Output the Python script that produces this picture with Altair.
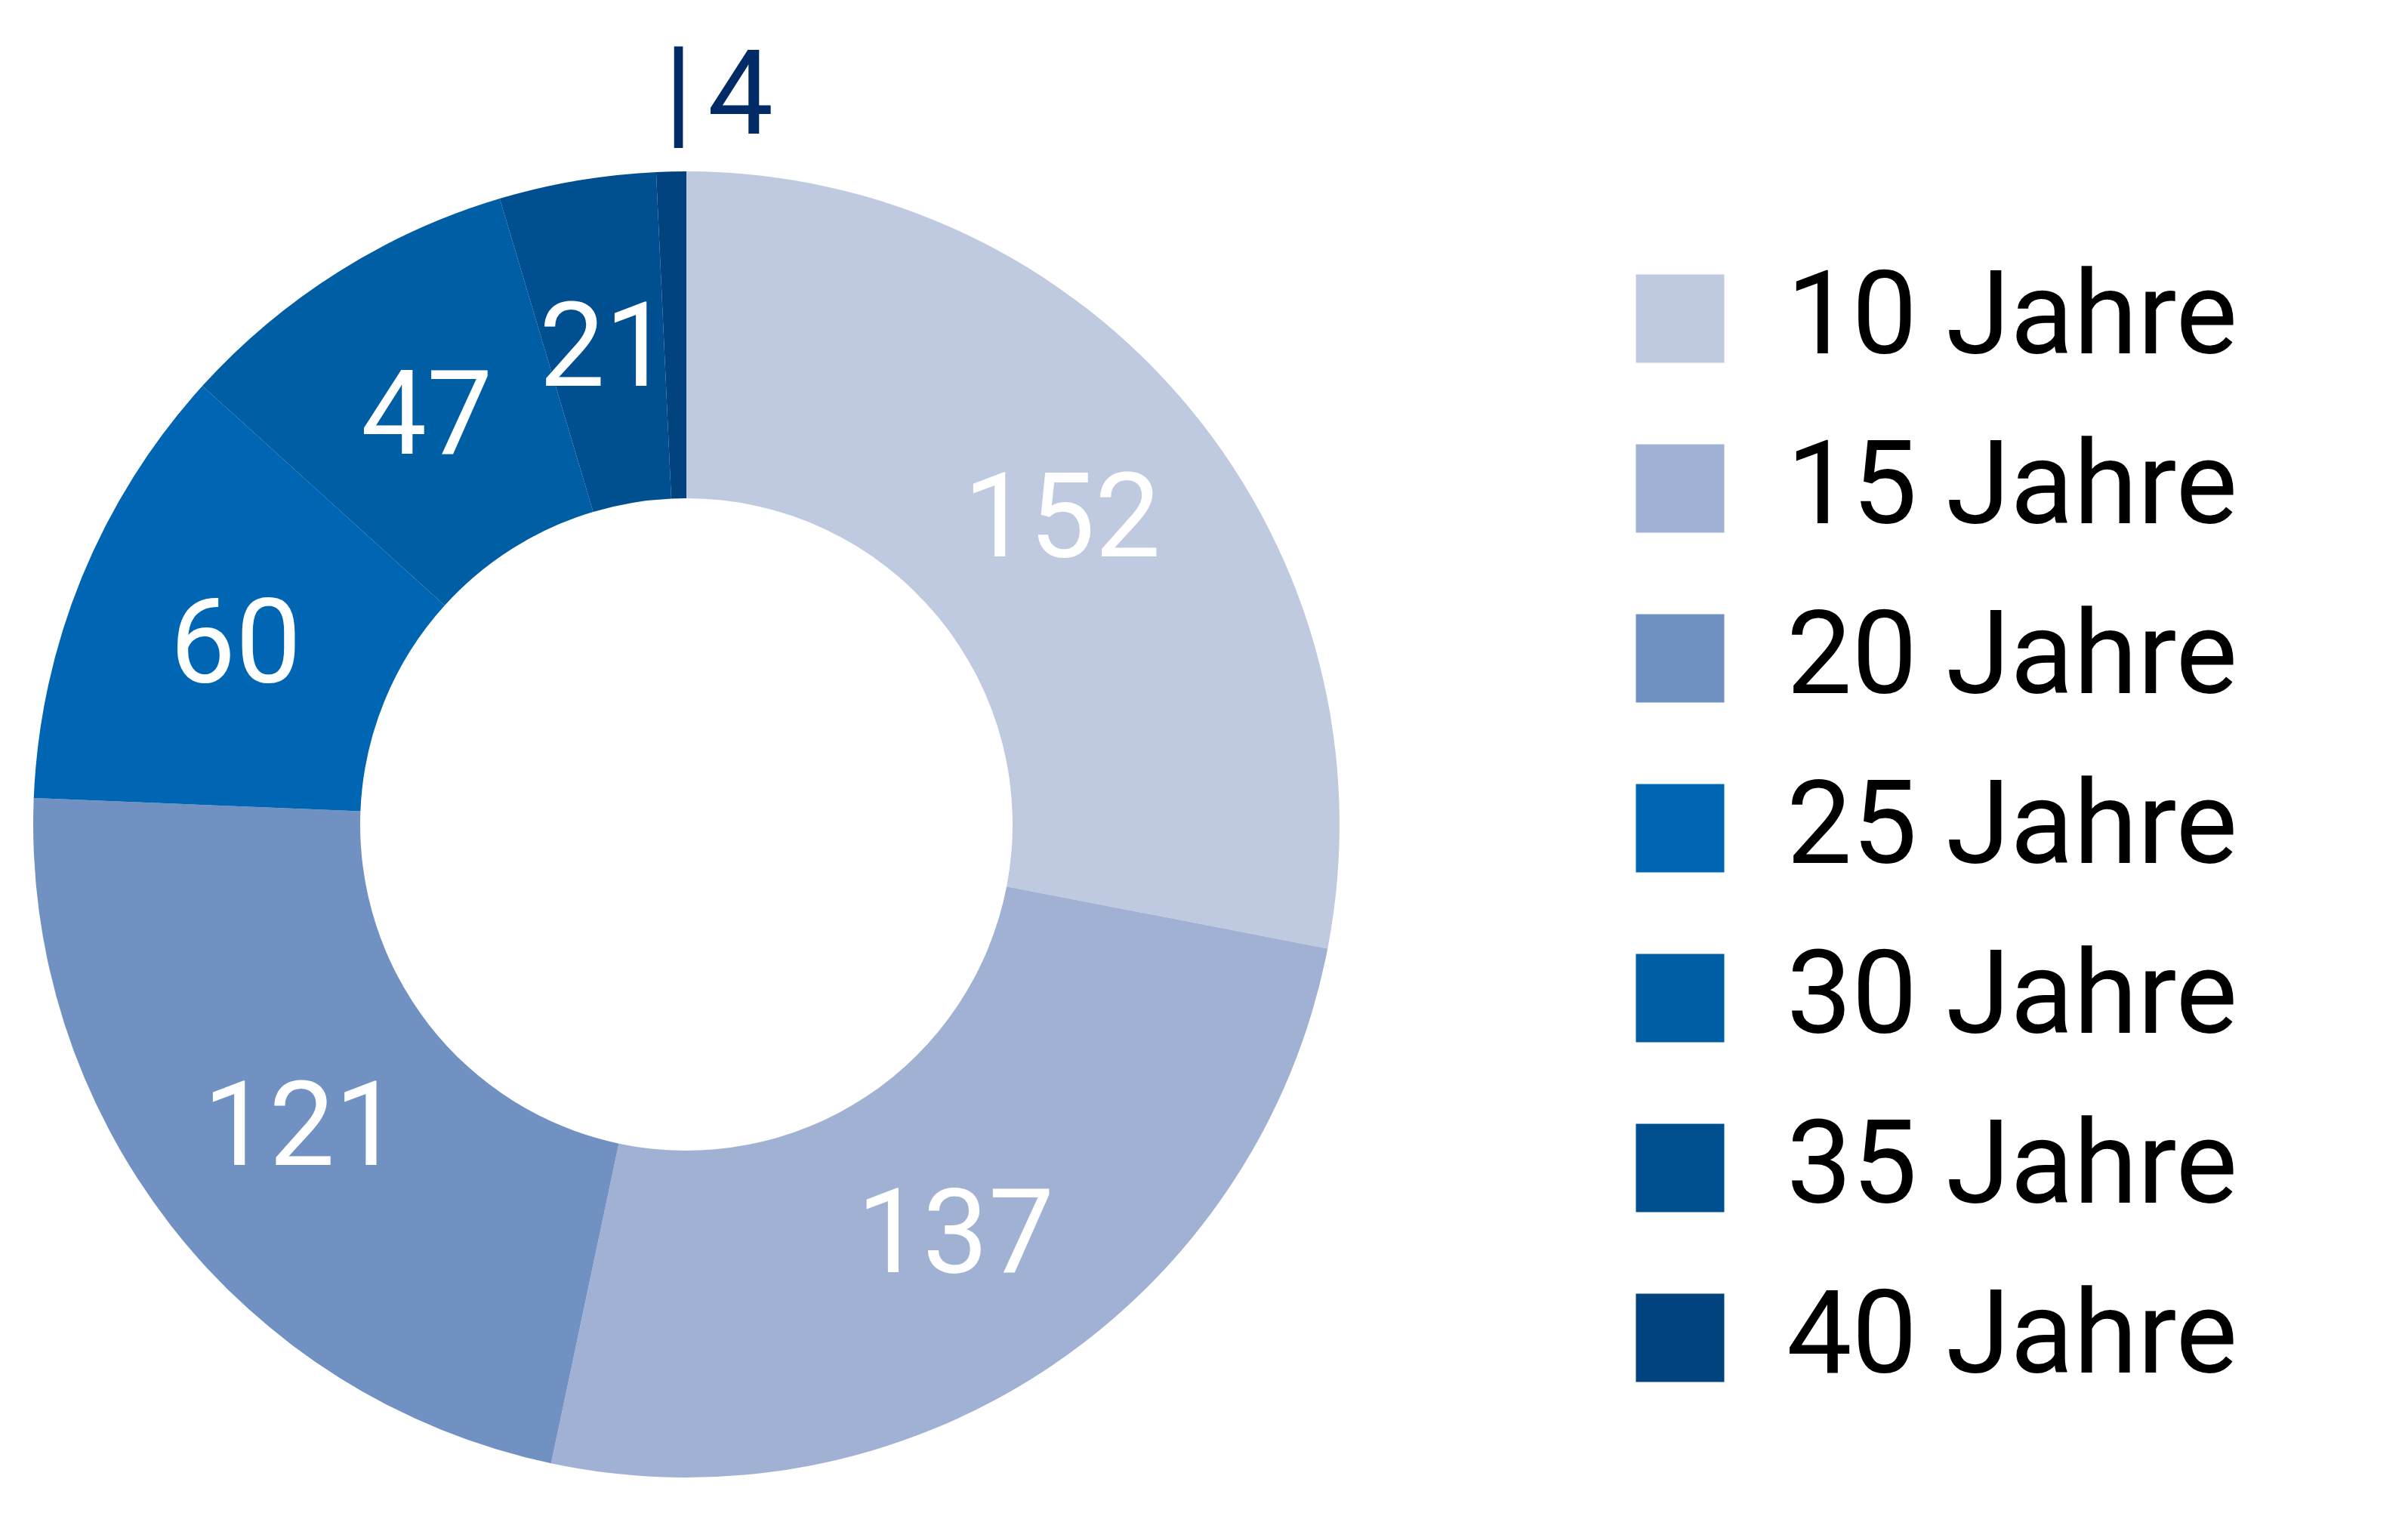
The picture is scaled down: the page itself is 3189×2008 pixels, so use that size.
import altair as alt
import pandas as pd

categories = ["10 Jahre", "15 Jahre", "20 Jahre", "25 Jahre", "30 Jahre", "35 Jahre", "40 Jahre"]
values = [152, 137, 121, 60, 47, 21, 4]
colors = ["#BFCAE1", "#A0B1D3", "#7191C2", "#0066B3", "#005EA4", "#005091", "#00437F"]

df = pd.DataFrame({
    "category": categories,
    "value": values,
    "order": list(range(len(categories))),
})

CX, CY = 901, 1084

base = alt.Chart(df).encode(
    theta=alt.Theta("value:Q", stack=True),
    order=alt.Order("order:Q"),
    x=alt.value(CX),
    y=alt.value(CY),
)

arcs = base.mark_arc(outerRadius=865, innerRadius=432, strokeWidth=0).encode(
    color=alt.Color(
        "category:N",
        sort=categories,
        scale=alt.Scale(domain=categories, range=colors),
        legend=alt.Legend(
            title=None,
            orient="none",
            legendX=2140,
            legendY=337,
            symbolType="square",
            symbolSize=13700,
            symbolStrokeWidth=0,
            symbolOpacity=1,
            labelFont="Roboto",
            labelFontSize=154,
            labelColor="#000000",
            labelLimit=2000,
            labelOffset=64,
            rowPadding=71,
        ),
    )
)

inner = base.mark_text(
    radius=645, dy=8, font="Roboto", fontSize=155, color="white",
    align="center", baseline="middle",
).encode(text="inner:N").transform_calculate(
    inner="datum.value > 4 ? format(datum.value, 'd') : ''"
)

pipe = base.mark_text(
    radius=966, dx=12, dy=1, font="Roboto", fontSize=160, color="#002B66",
    align="center", baseline="middle",
).encode(text="pipe:N").transform_calculate(
    pipe="datum.value <= 4 ? '|' : ''"
)

outer = base.mark_text(
    radius=966, dx=94, dy=4, font="Roboto", fontSize=155, color="#002B66",
    align="center", baseline="middle",
).encode(text="outer:N").transform_calculate(
    outer="datum.value <= 4 ? format(datum.value, 'd') : ''"
)

chart = alt.layer(arcs, inner, pipe, outer).properties(
    width=3150, height=1975, padding=0
).configure_view(stroke=None)

chart.save("out.html", embed_options={"renderer": "svg", "actions": False})
